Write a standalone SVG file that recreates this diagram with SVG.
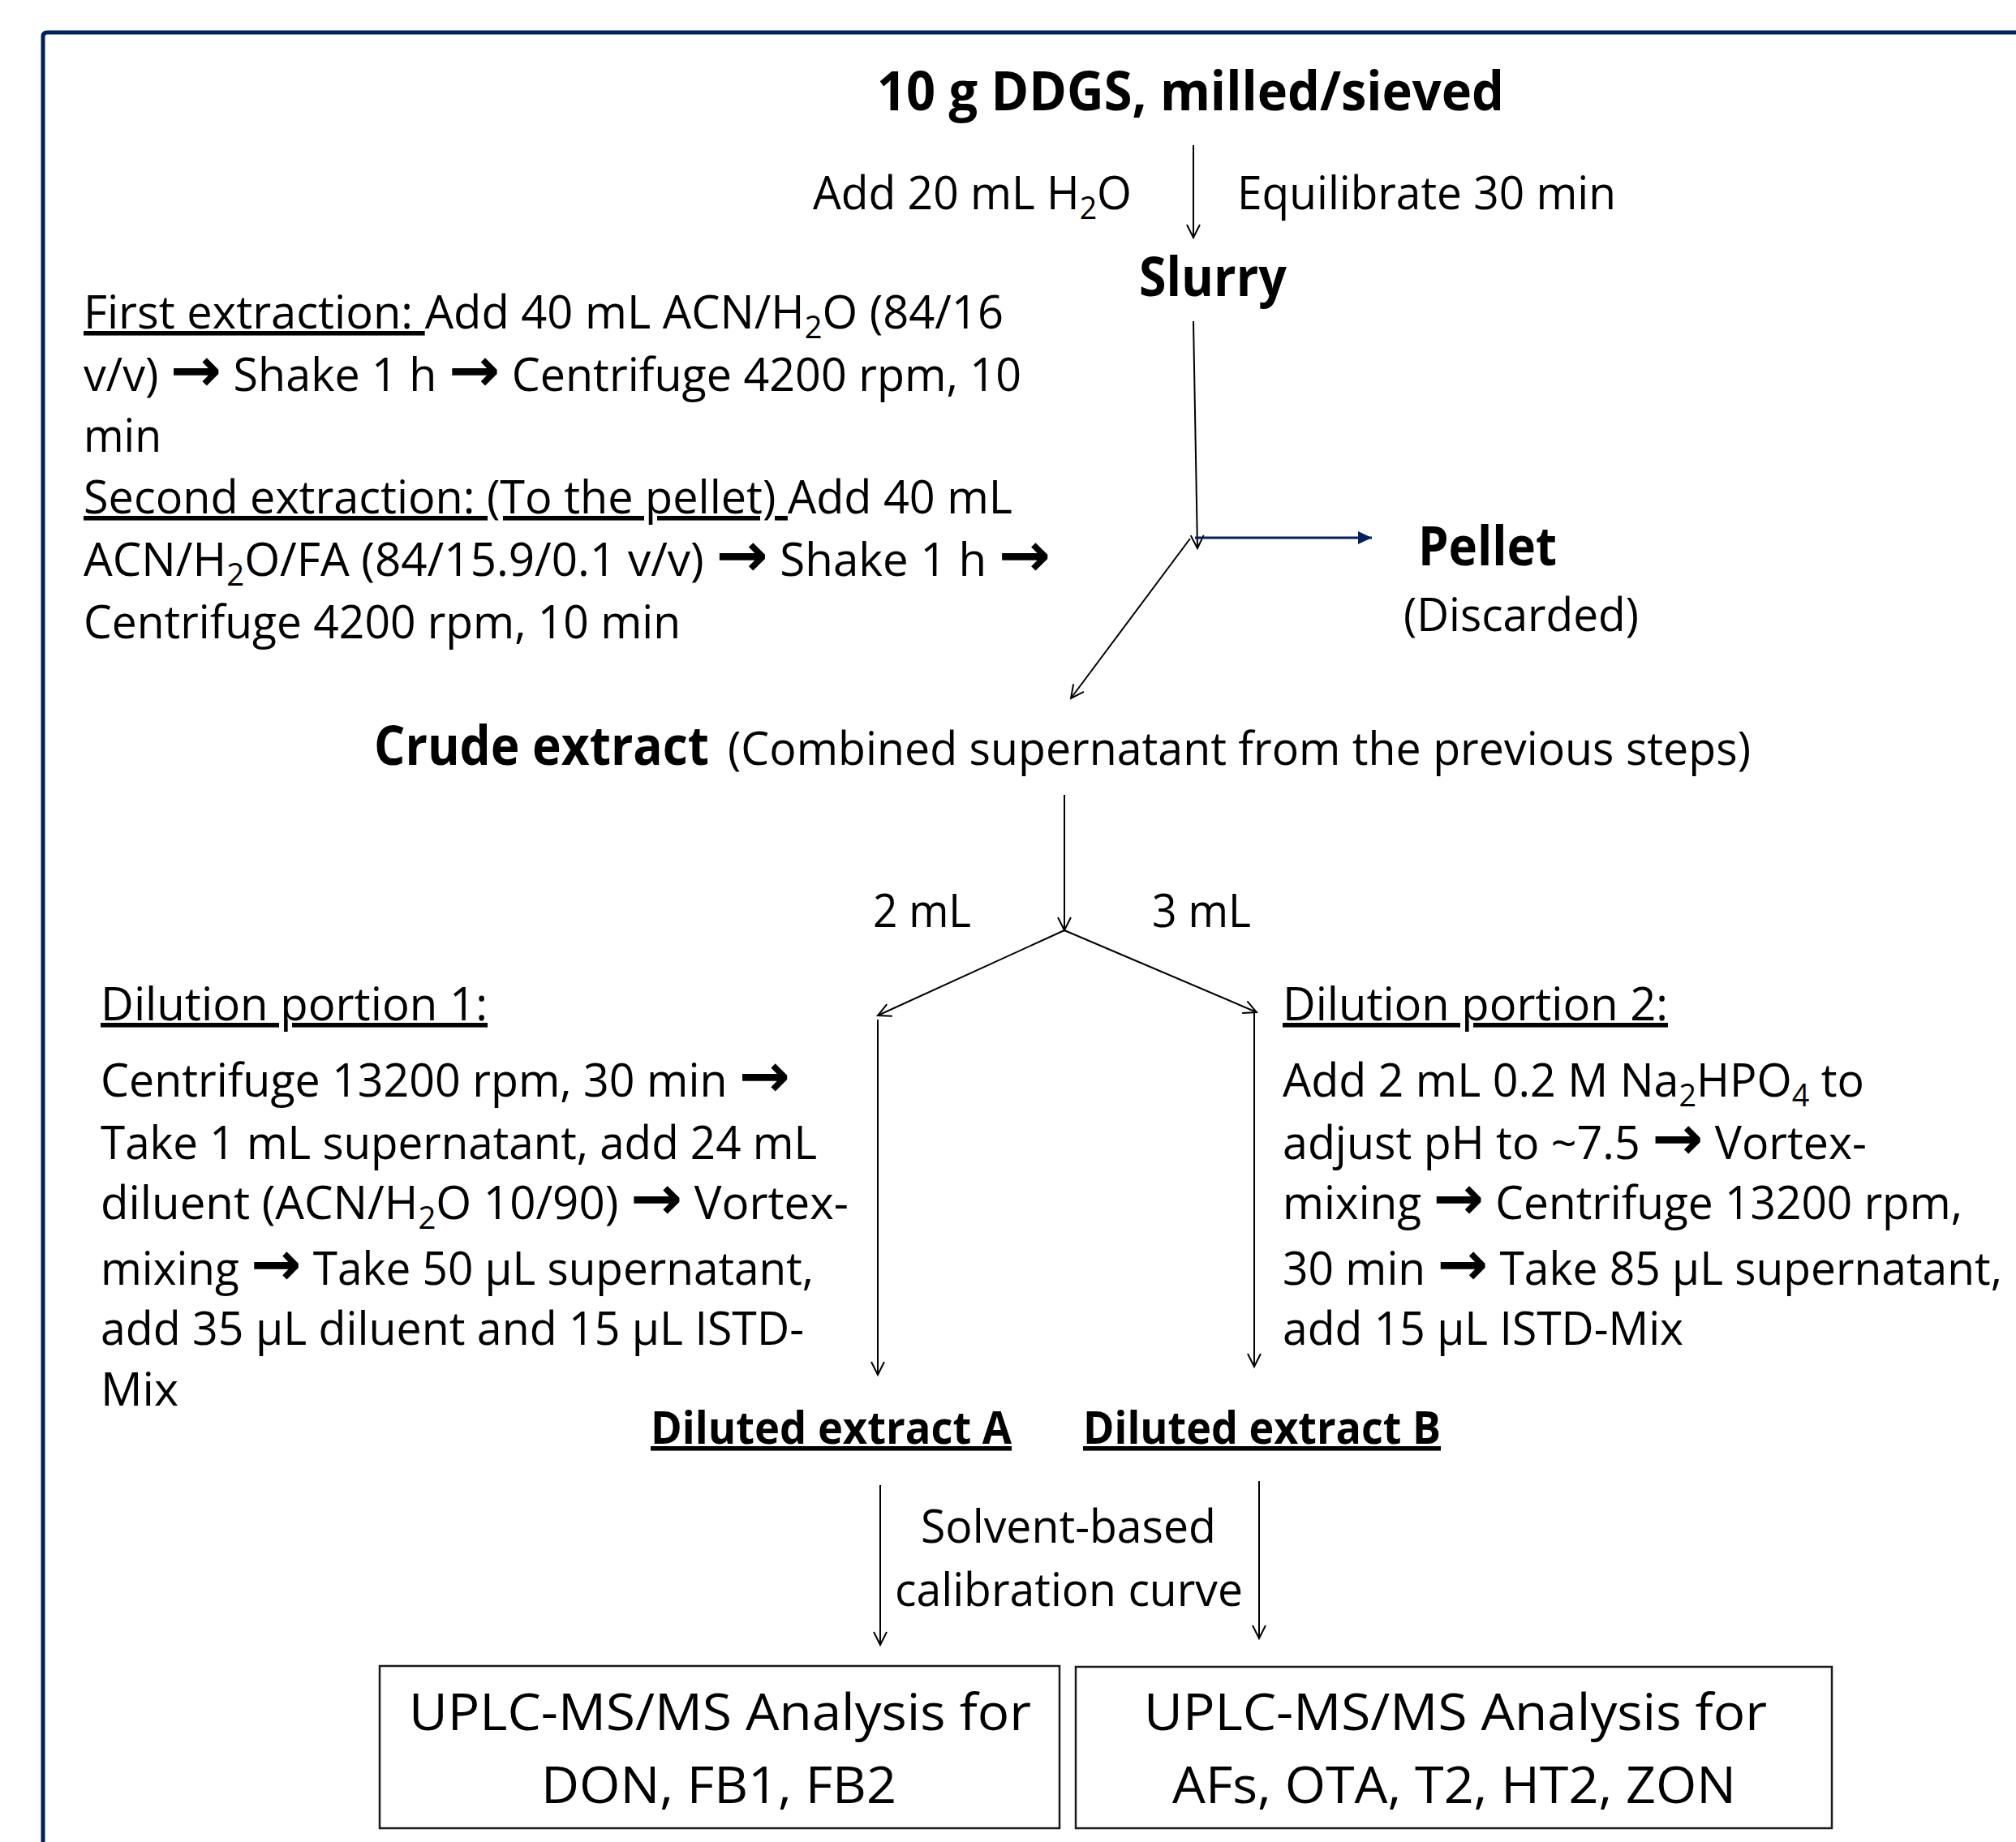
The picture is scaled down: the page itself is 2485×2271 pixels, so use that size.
<svg xmlns="http://www.w3.org/2000/svg" width="2485" height="2271" viewBox="0 0 2485 2271">
<defs>
<style>
text{font-family:"Open Sans","DejaVu Sans",sans-serif;fill:#000;}
.b{font-size:56px;}
.h{font-size:66px;font-weight:bold;}
.d{font-size:56px;font-weight:bold;text-decoration:underline;}
.x{font-size:62px;}
.u{text-decoration:underline;}
.ar{font-family:"DejaVu Sans",sans-serif;font-weight:bold;font-size:76px;}
.sub{font-size:38px;}
.c{stroke:#000;stroke-width:2;fill:none;marker-end:url(#open);}
.box{fill:#fff;stroke:#1a1a1a;stroke-width:2.5;}
</style>
<marker id="open" markerUnits="userSpaceOnUse" viewBox="0 0 20 20" refX="18" refY="10" markerWidth="20" markerHeight="20" orient="auto">
<path d="M2,2 L18,10 L2,18" fill="none" stroke="#000" stroke-width="2"/>
</marker>
<marker id="solid" markerUnits="userSpaceOnUse" viewBox="0 0 18 18" refX="17" refY="9" markerWidth="18" markerHeight="18" orient="auto">
<path d="M0,1 L17,9 L0,17 Z" fill="#002060"/>
</marker>
</defs>
<rect width="2485" height="2271" fill="#fff"/>
<path d="M53,2271 V45 Q53,40 58,40 H2485" fill="none" stroke="#002060" stroke-width="5"/>

<g id="connectors">
<line class="c" x1="1471" y1="179" x2="1471" y2="293"/>
<line class="c" x1="1471" y1="396" x2="1476" y2="676"/>
<line x1="1473" y1="663" x2="1691" y2="663" stroke="#002060" stroke-width="3" marker-end="url(#solid)"/>
<line class="c" x1="1467" y1="664" x2="1320" y2="861"/>
<line class="c" x1="1312" y1="980" x2="1312" y2="1147"/>
<line class="c" x1="1312" y1="1147" x2="1082" y2="1252"/>
<line class="c" x1="1312" y1="1147" x2="1549" y2="1248"/>
<line class="c" x1="1082" y1="1257" x2="1082" y2="1695"/>
<line class="c" x1="1546" y1="1249" x2="1546" y2="1685"/>
<line class="c" x1="1085" y1="1831" x2="1085" y2="2028"/>
<line class="c" x1="1552" y1="1826" x2="1552" y2="2020"/>
</g>

<g id="n-ddgs"><text class="h" x="1081" y="136" textLength="773" lengthAdjust="spacingAndGlyphs">10 g DDGS, milled/sieved</text></g>
<g id="l-add"><text class="b" x="1002" y="258" textLength="393" lengthAdjust="spacingAndGlyphs">Add 20 mL H<tspan class="sub" dy="12">2</tspan><tspan dy="-12">O</tspan></text></g>
<g id="l-equil"><text class="b" x="1525" y="258" textLength="467" lengthAdjust="spacingAndGlyphs">Equilibrate 30 min</text></g>
<g id="n-slurry"><text class="h" x="1404" y="365" textLength="182" lengthAdjust="spacingAndGlyphs">Slurry</text></g>
<g id="n-pellet">
<text class="h" x="1748" y="697" textLength="171" lengthAdjust="spacingAndGlyphs">Pellet</text>
<text class="b" x="1730" y="778" textLength="290" lengthAdjust="spacingAndGlyphs">(Discarded)</text>
</g>

<g id="n-extraction">
<text class="b" x="103" y="405" textLength="1134" lengthAdjust="spacingAndGlyphs"><tspan class="u">First extraction: </tspan>Add 40 mL ACN/H<tspan class="sub" dy="12">2</tspan><tspan dy="-12">O (84/16</tspan></text>
<text class="b" x="103" y="482" textLength="1156" lengthAdjust="spacingAndGlyphs">v/v) <tspan class="ar">→</tspan> Shake 1 h <tspan class="ar">→</tspan> Centrifuge 4200 rpm, 10</text>
<text class="b" x="103" y="557" textLength="96" lengthAdjust="spacingAndGlyphs">min</text>
<text class="b" x="103" y="633" textLength="1145" lengthAdjust="spacingAndGlyphs"><tspan class="u">Second extraction: (To the pellet) </tspan>Add 40 mL</text>
<text class="b" x="103" y="710" textLength="1192" lengthAdjust="spacingAndGlyphs">ACN/H<tspan class="sub" dy="12">2</tspan><tspan dy="-12">O/FA (84/15.9/0.1 v/v) </tspan><tspan class="ar">→</tspan> Shake 1 h <tspan class="ar">→</tspan></text>
<text class="b" x="103" y="787" textLength="736" lengthAdjust="spacingAndGlyphs">Centrifuge 4200 rpm, 10 min</text>
</g>

<g id="n-crude">
<text class="h" x="461" y="943" textLength="413" lengthAdjust="spacingAndGlyphs">Crude extract</text>
<text class="b" x="897" y="943" textLength="1261" lengthAdjust="spacingAndGlyphs">(Combined supernatant from the previous steps)</text>
</g>
<g id="l-2ml"><text class="b" x="1076" y="1143" textLength="121" lengthAdjust="spacingAndGlyphs">2 mL</text></g>
<g id="l-3ml"><text class="b" x="1420" y="1143" textLength="122" lengthAdjust="spacingAndGlyphs">3 mL</text></g>

<g id="n-dil1">
<text class="b u" x="124" y="1258" textLength="477" lengthAdjust="spacingAndGlyphs">Dilution portion 1:</text>
<text class="b" x="124" y="1352" textLength="850" lengthAdjust="spacingAndGlyphs">Centrifuge 13200 rpm, 30 min <tspan class="ar">→</tspan></text>
<text class="b" x="124" y="1429" textLength="883" lengthAdjust="spacingAndGlyphs">Take 1 mL supernatant, add 24 mL</text>
<text class="b" x="124" y="1503" textLength="922" lengthAdjust="spacingAndGlyphs">diluent (ACN/H<tspan class="sub" dy="12">2</tspan><tspan dy="-12">O 10/90) </tspan><tspan class="ar">→</tspan> Vortex-</text>
<text class="b" x="124" y="1584" textLength="879" lengthAdjust="spacingAndGlyphs">mixing <tspan class="ar">→</tspan> Take 50 µL supernatant,</text>
<text class="b" x="124" y="1658" textLength="867" lengthAdjust="spacingAndGlyphs">add 35 µL diluent and 15 µL ISTD-</text>
<text class="b" x="124" y="1733" textLength="96" lengthAdjust="spacingAndGlyphs">Mix</text>
</g>

<g id="n-dil2">
<text class="b u" x="1581" y="1258" textLength="475" lengthAdjust="spacingAndGlyphs">Dilution portion 2:</text>
<text class="b" x="1581" y="1352" textLength="717" lengthAdjust="spacingAndGlyphs">Add 2 mL 0.2 M Na<tspan class="sub" dy="12">2</tspan><tspan dy="-12">HPO</tspan><tspan class="sub" dy="12">4</tspan><tspan dy="-12"> to</tspan></text>
<text class="b" x="1581" y="1429" textLength="720" lengthAdjust="spacingAndGlyphs">adjust pH to ~7.5 <tspan class="ar">→</tspan> Vortex-</text>
<text class="b" x="1581" y="1503" textLength="838" lengthAdjust="spacingAndGlyphs">mixing <tspan class="ar">→</tspan> Centrifuge 13200 rpm,</text>
<text class="b" x="1581" y="1584" textLength="887" lengthAdjust="spacingAndGlyphs">30 min <tspan class="ar">→</tspan> Take 85 µL supernatant,</text>
<text class="b" x="1581" y="1658" textLength="494" lengthAdjust="spacingAndGlyphs">add 15 µL ISTD-Mix</text>
</g>

<g id="n-dilA"><text class="d" x="802" y="1780" textLength="445" lengthAdjust="spacingAndGlyphs">Diluted extract A</text></g>
<g id="n-dilB"><text class="d" x="1335" y="1780" textLength="441" lengthAdjust="spacingAndGlyphs">Diluted extract B</text></g>
<g id="l-solvent">
<text class="b" x="1135" y="1902" textLength="364" lengthAdjust="spacingAndGlyphs">Solvent-based</text>
<text class="b" x="1103" y="1980" textLength="429" lengthAdjust="spacingAndGlyphs">calibration curve</text>
</g>

<g id="n-uplcA">
<rect class="box" x="468" y="2054" width="838" height="200"/>
<text class="x" x="504" y="2133" textLength="767" lengthAdjust="spacingAndGlyphs">UPLC-MS/MS Analysis for</text>
<text class="x" x="667" y="2223" textLength="438" lengthAdjust="spacingAndGlyphs">DON, FB1, FB2</text>
</g>
<g id="n-uplcB">
<rect class="box" x="1326" y="2055" width="932" height="199"/>
<text class="x" x="1410" y="2133" textLength="768" lengthAdjust="spacingAndGlyphs">UPLC-MS/MS Analysis for</text>
<text class="x" x="1445" y="2223" textLength="695" lengthAdjust="spacingAndGlyphs">AFs, OTA, T2, HT2, ZON</text>
</g>
</svg>
